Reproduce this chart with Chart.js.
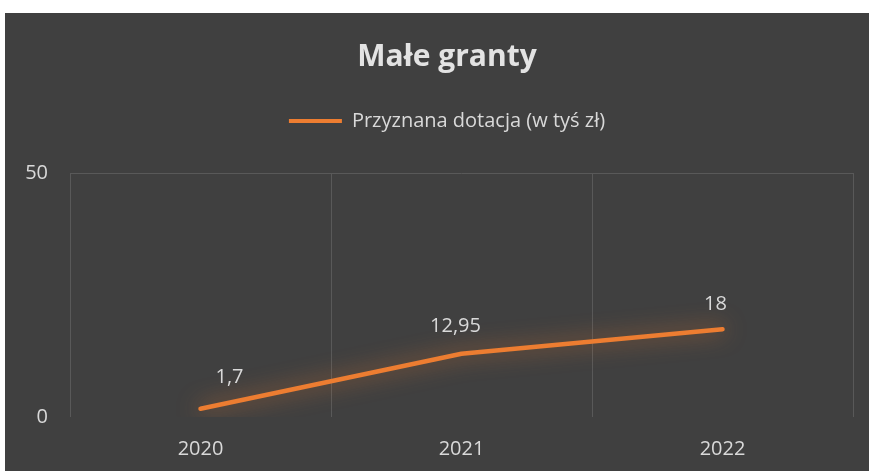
<!DOCTYPE html>
<html><head><meta charset="utf-8">
<script src="https://cdn.jsdelivr.net/npm/chart.js@4/dist/chart.umd.min.js"></script>
<style>
html,body{margin:0;padding:0;background:#fff;}
#wrap{position:absolute;left:5px;top:13px;width:864px;height:458px;background:#404040;}
canvas{display:block;}
</style></head><body>
<div id="wrap"><canvas id="c" width="864" height="458"></canvas></div>
<script>
const chartTitle = 'Małe granty';
const categories = ['2020', '2021', '2022'];
const seriesName = 'Przyznana dotacja (w tyś zł)';
const values = [1.7, 12.95, 18];
const valueLabels = ['1,7', '12,95', '18'];
const yTicks = [0, 50];

const ORANGE = '#ED7D31';
const TEXT = '#d9d9d9';
const GRID = '#595959';
const FONT = '"Open Sans", Lato, sans-serif';

const glowPlugin = {
  id: 'glow',
  beforeDatasetDraw(chart) {
    const ctx = chart.ctx;
    ctx.save();
    ctx.shadowColor = 'rgba(237,125,49,0.75)';
    ctx.shadowBlur = 22;
  },
  afterDatasetDraw(chart) {
    chart.ctx.restore();
  }
};

const labelPlugin = {
  id: 'valueLabels',
  afterDatasetsDraw(chart, args, opts) {
    const ctx = chart.ctx;
    const meta = chart.getDatasetMeta(0);
    ctx.save();
    ctx.font = '20px ' + FONT;
    ctx.fillStyle = TEXT;
    ctx.textAlign = 'center';
    ctx.textBaseline = 'middle';
    meta.data.forEach((pt, i) => {
      const n = opts.nudge[i] || [0, -28];
      ctx.fillText(valueLabels[i], pt.x + n[0], pt.y + n[1]);
    });
    ctx.restore();
  }
};

new Chart(document.getElementById('c'), {
  type: 'line',
  data: {
    labels: categories,
    datasets: [{
      label: seriesName,
      data: values,
      borderColor: ORANGE,
      backgroundColor: ORANGE,
      borderWidth: 4.5,
      borderCapStyle: 'round',
      borderJoinStyle: 'round',
      pointRadius: 0,
      tension: 0,
      fill: false,
      yAxisID: 'y'
    }]
  },
  options: {
    responsive: false,
    devicePixelRatio: 1,
    animation: false,
    layout: { padding: { left: 20, right: 0, top: 0, bottom: 0 } },
    plugins: {
      tooltip: { enabled: false },
      title: {
        display: true,
        text: chartTitle,
        color: '#e3e3e3',
        font: { family: FONT, size: 30, weight: 'bold' },
        padding: { top: 26, bottom: -6 }
      },
      legend: {
        display: true,
        position: 'top',
        labels: {
          color: TEXT,
          font: { family: FONT, size: 20 },
          boxWidth: 53,
          boxHeight: 4,
          padding: 42,
          generateLabels: () => [{
            text: seriesName, fillStyle: ORANGE, strokeStyle: ORANGE,
            lineWidth: 0, hidden: false, datasetIndex: 0, fontColor: TEXT
          }]
        }
      },
      subtitle: {
        display: true,
        text: '',
        weight: 500,
        font: { size: 1, lineHeight: 1 },
        padding: { top: 31, bottom: 0 }
      },
      valueLabels: { nudge: [[29, -31], [-6, -28], [-7, -25]] }
    },
    scales: {
      x: {
        offset: true,
        grid: { display: true, offset: true, color: GRID, lineWidth: 1, drawTicks: false },
        border: { display: false },
        ticks: { color: TEXT, font: { family: FONT, size: 20 }, padding: 20, maxRotation: 0 },
        afterFit(scale) { scale.height = 54; }
      },
      y: {
        position: 'left',
        min: yTicks[0],
        max: yTicks[yTicks.length - 1],
        afterBuildTicks(scale) { scale.ticks = yTicks.map(v => ({ value: v })); },
        grid: {
          color: (c) => (c.tick && c.tick.value === yTicks[yTicks.length - 1]) ? GRID : 'rgba(0,0,0,0)',
          drawTicks: false
        },
        border: { display: false },
        ticks: { color: TEXT, font: { family: FONT, size: 20 }, padding: 22 },
        afterFit(scale) { scale.width = 45; }
      },
      yRight: {
        position: 'right',
        display: true,
        min: yTicks[0],
        max: yTicks[yTicks.length - 1],
        grid: { display: false, drawTicks: false },
        border: { display: false },
        ticks: { display: false },
        afterFit(scale) { scale.width = 16; }
      }
    }
  },
  plugins: [glowPlugin, labelPlugin]
});
</script>
</body></html>
